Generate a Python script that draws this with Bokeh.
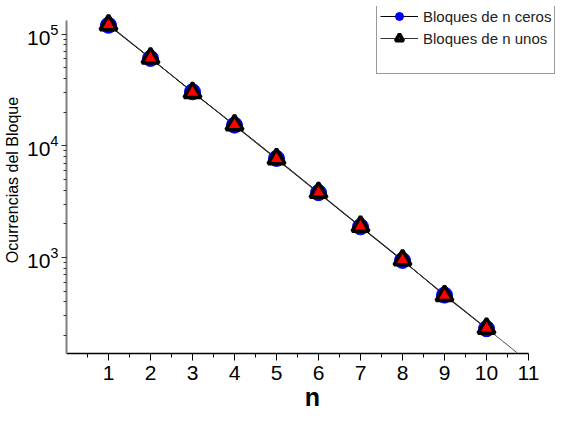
import numpy as np
from bokeh.plotting import figure
from bokeh.models import Legend, LegendItem, FixedTicker, LogTicker, LogTickFormatter, ColumnDataSource
from bokeh.embed import file_html
from bokeh.resources import INLINE

n = [1, 2, 3, 4, 5, 6, 7, 8, 9, 10]
ceros = [120000, 60500, 30400, 15300, 7700, 3800, 1880, 940, 460, 230]
unos = [121000, 61000, 30000, 15400, 7650, 3820, 1900, 950, 455, 232]
x_ticks = [1, 2, 3, 4, 5, 6, 7, 8, 9, 10, 11]
x_minor = [0.5, 1.5, 2.5, 3.5, 4.5, 5.5, 6.5, 7.5, 8.5, 9.5, 10.5]

FONT = "Liberation Sans"
Y_LO = 138

p = figure(frame_width=492, frame_height=347, y_axis_type="log",
           x_range=(0, 11.714), y_range=(Y_LO, 176600),
           output_backend="svg", toolbar_location=None,
           min_border_left=58, min_border_right=0,
           min_border_top=6, min_border_bottom=50)
p.xgrid.visible = False
p.ygrid.visible = False
p.outline_line_color = None
p.background_fill_color = "white"
p.border_fill_color = "white"

# regression line through the data (log scale)
coef = np.polyfit(np.array(n, dtype=float), np.log10(ceros), 1)
x_end = 10 + np.log10(Y_LO / ceros[-1]) / coef[0]
fx = np.array([1.0, x_end])
fy = 10 ** np.polyval(coef, fx)
p.line(fx, fy, line_color="#555555", line_width=1)

src_c = ColumnDataSource(dict(x=n, y=ceros))
src_u = ColumnDataSource(dict(x=n, y=unos))
lc = p.line("x", "y", source=src_c, line_color="black", line_width=1)
lu = p.line("x", "y", source=src_u, line_color="#333333", line_width=1)
sc = p.scatter("x", "y", source=src_c, marker="circle", size=16,
               fill_color="blue", line_color="blue")
su = p.scatter("x", "y", source=src_u, marker="triangle", size=17,
               fill_color="red", line_color="black", line_width=3.5)
dummy = p.scatter([], [], marker="circle", size=1, alpha=0)

# axes
xa = p.xaxis[0]
xa.ticker = FixedTicker(ticks=x_ticks, minor_ticks=x_minor)
xa.bounds = (0, 11)
xa.axis_label = "n"
xa.axis_label_text_font = FONT
xa.axis_label_text_font_style = "bold"
xa.axis_label_text_font_size = "25px"
xa.axis_label_text_color = "black"
xa.axis_label_standoff = 0
xa.major_label_text_font = FONT
xa.major_label_text_font_size = "21px"
xa.major_label_text_color = "black"
xa.major_label_standoff = 5
xa.axis_line_color = "black"
xa.axis_line_width = 1.5
xa.major_tick_line_color = "black"
xa.minor_tick_line_color = "black"
xa.major_tick_in = 0
xa.major_tick_out = 7
xa.minor_tick_in = 0
xa.minor_tick_out = 4

ya = p.yaxis[0]
ya.ticker = LogTicker(num_minor_ticks=10)
ya.formatter = LogTickFormatter()
ya.bounds = (Y_LO, 132500)
ya.axis_label = "Ocurrencias del Bloque"
ya.axis_label_text_font = FONT
ya.axis_label_text_font_style = "normal"
ya.axis_label_text_font_size = "16px"
ya.axis_label_text_color = "black"
ya.axis_label_standoff = 3
ya.major_label_text_font = FONT
ya.major_label_text_font_size = "21px"
ya.major_label_text_color = "black"
ya.major_label_standoff = 3
ya.axis_line_color = "#808080"
ya.axis_line_width = 2
ya.major_tick_line_color = "#333333"
ya.minor_tick_line_color = "#333333"
ya.major_tick_in = 0
ya.major_tick_out = 5
ya.minor_tick_in = 0
ya.minor_tick_out = 3

legend = Legend(items=[
    LegendItem(label="Bloques de n ceros", renderers=[lc, sc]),
    LegendItem(label="Bloques de n unos", renderers=[lu, su]),
    LegendItem(label=" ", renderers=[dummy]),
], location=(310, 279))
legend.label_text_font = FONT
legend.label_text_font_size = "15px"
legend.label_text_color = "#222222"
legend.glyph_width = 38
legend.glyph_height = 20
legend.label_height = 20
legend.label_standoff = 5
legend.spacing = 2
legend.padding = 3
legend.margin = 0
legend.border_line_color = "#333333"
legend.border_line_width = 1
legend.background_fill_color = "white"
legend.background_fill_alpha = 1
p.add_layout(legend, "center")

open("out.html", "w").write(file_html(p, INLINE))
